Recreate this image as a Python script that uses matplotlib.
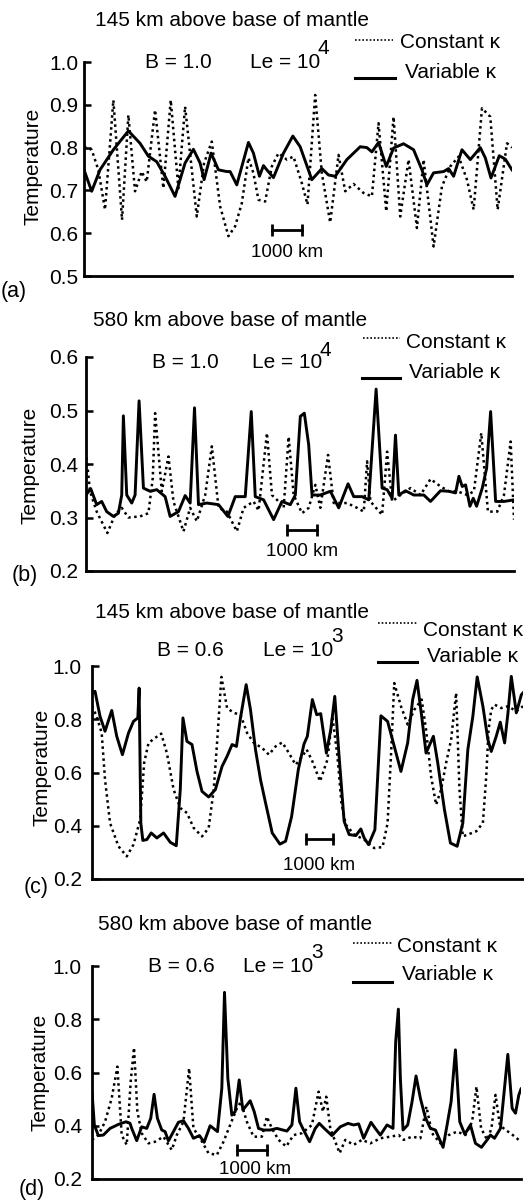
import matplotlib
matplotlib.use('Agg')
import matplotlib.pyplot as plt
from matplotlib.lines import Line2D

plt.rcParams['font.family'] = ['Liberation Sans', 'DejaVu Sans']

# ---------------- data (distance in km, temperature non-dimensional) ----------------
a_var_x = [0, 256, 533, 978, 1478, 1867, 2144, 2422, 2700, 3033, 3367, 3644, 3867, 4000, 4233, 4478, 4756, 4867, 5089, 5289,
           5478, 5644, 5844, 5978, 6089, 6311, 6644, 6956, 7200, 7589, 7922, 8144, 8367, 8756, 9200, 9422, 9589, 9811, 10067,
           10311, 10644, 10978, 11256, 11422, 11644, 11978, 12144, 12311, 12589, 12867, 13200, 13367, 13556, 13833, 14033, 14256]
a_var_t = [0.748, 0.698, 0.748, 0.795, 0.839, 0.81, 0.78, 0.767, 0.733, 0.686, 0.764, 0.796, 0.764, 0.725, 0.787, 0.748, 0.744,
           0.744, 0.713, 0.764, 0.812, 0.787, 0.733, 0.758, 0.748, 0.73, 0.787, 0.827, 0.802, 0.725, 0.751, 0.736, 0.733, 0.772,
           0.802, 0.80, 0.79, 0.812, 0.756, 0.799, 0.809, 0.795, 0.748, 0.713, 0.741, 0.744, 0.751, 0.733, 0.795, 0.772, 0.80,
           0.776, 0.729, 0.781, 0.773, 0.748]
a_const_x = [0, 256, 478, 700, 978, 1267, 1478, 1700, 1922, 2089, 2367, 2644, 2889, 3144, 3367, 3756, 4000, 4256, 4533, 4811,
             5033, 5256, 5478, 5644, 5811, 6033, 6256, 6478, 6756, 6978, 7256, 7444, 7700, 7922, 8200, 8478, 8700, 8978, 9311,
             9589, 9811, 10067, 10311, 10533, 10811, 11089, 11311, 11644, 11922, 12200, 12478, 12756, 12978, 13256, 13533,
             13778, 14089, 14256]
a_const_t = [0.802, 0.795, 0.748, 0.655, 0.911, 0.631, 0.876, 0.698, 0.744, 0.72, 0.888, 0.705, 0.911, 0.705, 0.896, 0.639,
             0.764, 0.814, 0.663, 0.593, 0.616, 0.67, 0.776, 0.74, 0.678, 0.674, 0.756, 0.787, 0.772, 0.779, 0.717, 0.667,
             0.923, 0.74, 0.625, 0.783, 0.698, 0.715, 0.694, 0.686, 0.857, 0.651, 0.872, 0.639, 0.772, 0.612, 0.772, 0.569,
             0.709, 0.756, 0.779, 0.725, 0.655, 0.892, 0.872, 0.655, 0.81, 0.80]

b_var_x = [0, 156, 356, 523, 689, 912, 1079, 1190, 1245, 1357, 1523, 1635, 1768, 1913, 2135, 2358, 2636, 2802, 3080, 3303,
           3469, 3614, 3747, 4025, 4415, 4726, 4971, 5304, 5504, 5638, 5916, 6249, 6527, 6805, 6972, 7139, 7272, 7417, 7528,
           7806, 8140, 8418, 8729, 8918, 9196, 9418, 9663, 9863, 10030, 10197, 10308, 10419, 10642, 10920, 11253, 11475,
           11809, 12087, 12310, 12421, 12532, 12643, 12788, 12899, 13010, 13199, 13344, 13477, 13644, 13922, 14256]
b_var_t = [0.342, 0.354, 0.324, 0.330, 0.311, 0.302, 0.308, 0.342, 0.49, 0.342, 0.327, 0.342, 0.518, 0.355, 0.349, 0.352,
           0.339, 0.302, 0.311, 0.341, 0.327, 0.505, 0.324, 0.327, 0.324, 0.302, 0.339, 0.339, 0.498, 0.339, 0.333, 0.296,
           0.330, 0.324, 0.342, 0.489, 0.495, 0.436, 0.342, 0.342, 0.349, 0.318, 0.363, 0.339, 0.339, 0.333, 0.54, 0.355,
           0.352, 0.336, 0.454, 0.342, 0.35, 0.342, 0.342, 0.330, 0.35, 0.349, 0.346, 0.377, 0.358, 0.361, 0.321, 0.336,
           0.321, 0.355, 0.392, 0.498, 0.330, 0.330, 0.333]
b_const_x = [0, 133, 356, 712, 967, 1190, 1412, 1801, 2079, 2224, 2302, 2524, 2747, 2913, 3247, 3469, 3692, 3970, 4192, 4415,
             4693, 5026, 5249, 5582, 5749, 6027, 6194, 6416, 6583, 6750, 6917, 7195, 7417, 7639, 7806, 8062, 8251, 8696, 9029,
             9252, 9363, 9474, 9863, 10030, 10197, 10475, 10809, 11142, 11476, 11809, 12087, 12365, 12699, 12921, 13166,
             13388, 13699, 13922, 14144, 14256]
b_const_t = [0.423, 0.349, 0.311, 0.271, 0.305, 0.318, 0.300, 0.302, 0.308, 0.374, 0.495, 0.349, 0.414, 0.330, 0.274, 0.318,
             0.293, 0.342, 0.433, 0.318, 0.311, 0.274, 0.318, 0.330, 0.313, 0.458, 0.342, 0.330, 0.318, 0.451, 0.342, 0.308,
             0.318, 0.361, 0.318, 0.417, 0.327, 0.327, 0.318, 0.311, 0.405, 0.330, 0.305, 0.423, 0.330, 0.342, 0.355, 0.342,
             0.372, 0.358, 0.349, 0.349, 0.342, 0.349, 0.458, 0.311, 0.311, 0.342, 0.442, 0.296]

c_var_x = [0, 100, 265, 431, 653, 818, 1006, 1206, 1371, 1515, 1559, 1615, 1681, 1814, 1958, 2146, 2367, 2588, 2787, 2920,
           3008, 3141, 3307, 3473, 3639, 3860, 4081, 4302, 4468, 4634, 4778, 4911, 5099, 5242, 5408, 5574, 5740, 5961, 6216,
           6404, 6603, 6824, 7012, 7123, 7289, 7432, 7565, 7753, 7897, 8030, 8173, 8339, 8505, 8726, 8892, 9003, 9147, 9357,
           9556, 9777, 9998, 10219, 10441, 10607, 10750, 10905, 11049, 11292, 11436, 11657, 11856, 12078, 12265, 12431,
           12597, 12741, 12929, 13095, 13206, 13371, 13504, 13648, 13759, 13869, 14035, 14201, 14256]
c_var_t = [0.899, 0.905, 0.811, 0.755, 0.833, 0.736, 0.667, 0.748, 0.792, 0.805, 0.917, 0.410, 0.345, 0.348, 0.373, 0.354,
           0.373, 0.338, 0.325, 0.536, 0.805, 0.717, 0.705, 0.604, 0.529, 0.508, 0.536, 0.623, 0.661, 0.705, 0.698, 0.805,
           0.930, 0.836, 0.686, 0.573, 0.486, 0.373, 0.331, 0.342, 0.435, 0.611, 0.707, 0.736, 0.874, 0.817, 0.821, 0.673,
           0.761, 0.886, 0.661, 0.417, 0.367, 0.363, 0.388, 0.354, 0.329, 0.385, 0.813, 0.792, 0.698, 0.604, 0.711, 0.874,
           0.946, 0.811, 0.673, 0.736, 0.636, 0.461, 0.335, 0.323, 0.410, 0.686, 0.811, 0.959, 0.849, 0.723, 0.679, 0.736,
           0.789, 0.711, 0.824, 0.961, 0.824, 0.892, 0.899]
c_const_x = [0, 155, 321, 431, 597, 874, 1150, 1371, 1593, 1725, 1869, 2090, 2289, 2477, 2699, 2920, 3141, 3362, 3639, 3860,
             4026, 4159, 4280, 4468, 4689, 4911, 5132, 5353, 5630, 5851, 6072, 6293, 6514, 6735, 6957, 7101, 7289, 7543, 7786,
             7952, 8118, 8251, 8395, 8671, 9003, 9335, 9611, 9777, 9888, 9998, 10219, 10441, 10662, 10905, 11049, 11215, 11381,
             11547, 11713, 11878, 12044, 12155, 12265, 12431, 12708, 12929, 13040, 13117, 13206, 13316, 13537, 13759, 14035,
             14256]
c_const_t = [0.849, 0.811, 0.748, 0.573, 0.410, 0.323, 0.285, 0.329, 0.423, 0.636, 0.711, 0.730, 0.746, 0.673, 0.536, 0.467,
             0.448, 0.392, 0.360, 0.392, 0.536, 0.748, 0.959, 0.842, 0.824, 0.817, 0.748, 0.711, 0.692, 0.667, 0.698, 0.713,
             0.673, 0.629, 0.661, 0.686, 0.642, 0.567, 0.648, 0.811, 0.661, 0.486, 0.404, 0.367, 0.348, 0.316, 0.320, 0.410,
             0.661, 0.936, 0.849, 0.780, 0.836, 0.874, 0.761, 0.586, 0.479, 0.536, 0.636, 0.723, 0.899, 0.536, 0.360, 0.367,
             0.379, 0.410, 0.586, 0.761, 0.836, 0.855, 0.842, 0.849, 0.830, 0.849]

d_var_x = [0, 78, 211, 377, 599, 876, 1131, 1264, 1320, 1486, 1652, 1819, 1952, 2063, 2174, 2318, 2429, 2540, 2706, 2872,
           3039, 3205, 3371, 3571, 3726, 3926, 4037, 4170, 4314, 4403, 4514, 4647, 4758, 4891, 5013, 5146, 5257, 5390, 5534,
           5700, 5922, 6144, 6477, 6643, 6776, 6898, 7031, 7231, 7419, 7552, 7719, 7974, 8251, 8506, 8695, 8861, 9027, 9271,
           9415, 9582, 9804, 9914, 10003, 10092, 10181, 10247, 10336, 10491, 10635, 10768, 10913, 11079, 11245, 11412,
           11667, 11800, 11933, 12077, 12221, 12388, 12576, 12742, 12942, 13131, 13241, 13375, 13574, 13663, 13818, 13962,
           14073, 14184, 14256]
d_var_t = [0.528, 0.403, 0.363, 0.365, 0.390, 0.405, 0.415, 0.409, 0.390, 0.344, 0.396, 0.390, 0.428, 0.518, 0.428, 0.384,
           0.378, 0.343, 0.378, 0.413, 0.419, 0.390, 0.353, 0.363, 0.338, 0.400, 0.390, 0.378, 0.541, 0.901, 0.578, 0.440,
           0.453, 0.572, 0.459, 0.478, 0.494, 0.453, 0.390, 0.384, 0.384, 0.390, 0.380, 0.403, 0.541, 0.415, 0.384, 0.340,
           0.390, 0.409, 0.390, 0.363, 0.396, 0.409, 0.403, 0.407, 0.353, 0.413, 0.390, 0.365, 0.403, 0.396, 0.390, 0.716,
           0.838, 0.578, 0.384, 0.403, 0.490, 0.587, 0.503, 0.430, 0.390, 0.384, 0.319, 0.403, 0.490, 0.685, 0.415, 0.368,
           0.403, 0.334, 0.319, 0.347, 0.365, 0.353, 0.390, 0.490, 0.668, 0.465, 0.447, 0.516, 0.538]
d_const_x = [0, 211, 433, 654, 843, 987, 1153, 1286, 1397, 1508, 1652, 1874, 2096, 2373, 2651, 2817, 3039, 3227, 3371, 3593,
             3870, 4148, 4369, 4591, 4813, 4946, 5146, 5368, 5645, 5811, 5978, 6199, 6454, 6698, 6976, 7308, 7530, 7674, 7785,
             7918, 8085, 8229, 8417, 8695, 8972, 9249, 9582, 9914, 10192, 10358, 10635, 10913, 11112, 11301, 11578, 11855,
             12133, 12410, 12632, 12776, 12931, 13131, 13274, 13408, 13552, 13741, 13907, 14256]
d_const_t = [0.347, 0.365, 0.415, 0.503, 0.622, 0.365, 0.328, 0.566, 0.693, 0.453, 0.372, 0.334, 0.340, 0.359, 0.309, 0.365,
             0.415, 0.616, 0.390, 0.353, 0.297, 0.290, 0.340, 0.403, 0.465, 0.490, 0.415, 0.359, 0.359, 0.434, 0.390, 0.347,
             0.322, 0.365, 0.372, 0.403, 0.528, 0.453, 0.509, 0.390, 0.340, 0.297, 0.347, 0.328, 0.347, 0.334, 0.353, 0.359,
             0.365, 0.347, 0.359, 0.353, 0.472, 0.372, 0.334, 0.365, 0.378, 0.365, 0.415, 0.547, 0.390, 0.347, 0.390, 0.516,
             0.403, 0.384, 0.372, 0.340]

titles = ["145 km above base of mantle", "580 km above base of mantle",
          "145 km above base of mantle", "580 km above base of mantle"]
b_labels = ["B = 1.0", "B = 1.0", "B = 0.6", "B = 0.6"]
le_exponents = ["4", "4", "3", "3"]
panel_labels = ["(a)", "(b)", "(c)", "(d)"]
yticks_list = [[0.5, 0.6, 0.7, 0.8, 0.9, 1.0], [0.2, 0.3, 0.4, 0.5, 0.6],
               [0.2, 0.4, 0.6, 0.8, 1.0], [0.2, 0.4, 0.6, 0.8, 1.0]]
series = [(a_var_x, a_var_t, a_const_x, a_const_t), (b_var_x, b_var_t, b_const_x, b_const_t),
          (c_var_x, c_var_t, c_const_x, c_const_t), (d_var_x, d_var_t, d_const_x, d_const_t)]

# ---------------- layout (pixels of the 524 x 1202 canvas) ----------------
W, H = 524, 1202
layout = [
    dict(box=(84, 512, 62, 276), pad=4.3, title=(95, 20), B=(145, 62), Le=(250, 62), sup=(318, 48),
         dot=(355, 393, 40), const=(400, 43), sol=(355, 395, 78), var=(405, 72), lab=(1, 292), ylab=(33, 166),
         bar=(6262, 7262, 0.607), bartxt=(6762, 0.556)),
    dict(box=(86, 514, 357, 571), pad=5.8, title=(93, 320), B=(152, 362), Le=(252, 362), sup=(320, 350),
         dot=(363, 400, 338), const=(406, 343), sol=(362, 400, 378), var=(409, 373), lab=(12, 576), ylab=(30, 465),
         bar=(6695, 7695, 0.277), bartxt=(7195, 0.236)),
    dict(box=(92, 523, 666, 879), pad=7.2, title=(95, 612), B=(157, 650), Le=(263, 650), sup=(331, 637),
         dot=(378, 417, 623), const=(423, 630), sol=(378, 417, 662), var=(427, 657), lab=(24, 888), ylab=(42, 767),
         bar=(7062, 7986, 0.350), bartxt=(7524, 0.252)),
    dict(box=(92, 521, 966, 1179), pad=7.2, title=(98, 925), B=(148, 967), Le=(243, 967), sup=(311, 952),
         dot=(353, 392, 943), const=(397, 947), sol=(353, 392, 982), var=(402, 975), lab=(19, 1190), ylab=(40, 1072),
         bar=(4818, 5815, 0.309), bartxt=(5417, 0.234)),
]

FS = 15
fig = plt.figure(figsize=(W / 100, H / 100), dpi=100)


def fx(px):
    return px / W


def fy(py):
    return 1 - py / H


for i, L in enumerate(layout):
    l, r, t, b = L['box']
    ax = fig.add_axes([fx(l), fy(b), (r - l) / W, (b - t) / H])
    vx, vt, cx, ct = series[i]
    ax.plot(cx, ct, color='black', lw=1.8, linestyle=(0, (1, 1.4)), solid_capstyle='butt')
    ax.plot(vx, vt, color='black', lw=2.1, solid_joinstyle='round')
    yt = yticks_list[i]
    ax.set_xlim(0, 14256)
    ax.set_ylim(yt[0], yt[-1])
    ax.set_yticks(yt)
    ax.set_yticklabels([f"{v:.1f}" for v in yt])
    ax.set_xticks([])
    for s in ['top', 'right']:
        ax.spines[s].set_visible(False)
    for s in ['left', 'bottom']:
        ax.spines[s].set_linewidth(2.0)
    ax.tick_params(axis='y', direction='in', length=5, width=1.8, labelsize=FS, pad=L['pad'])
    # scale bar
    x0, x1, yb = L['bar']
    ax.plot([x0, x1], [yb, yb], color='black', lw=2.0, marker='|', markersize=9, mew=2.0)
    bx, by = L['bartxt']
    ax.text(bx, by, "1000 km", ha='center', va='center', fontsize=13.5)

    # texts
    fig.text(fx(L['title'][0]), fy(L['title'][1]), titles[i], ha='left', va='center', fontsize=FS)
    fig.text(fx(L['B'][0]), fy(L['B'][1]), b_labels[i], ha='left', va='center', fontsize=FS)
    fig.text(fx(L['Le'][0]), fy(L['Le'][1]), "Le = 10", ha='left', va='center', fontsize=FS)
    fig.text(fx(L['sup'][0]), fy(L['sup'][1]), le_exponents[i], ha='left', va='center', fontsize=FS)
    d0, d1, dy = L['dot']
    fig.add_artist(Line2D([fx(d0), fx(d1)], [fy(dy), fy(dy)], transform=fig.transFigure,
                          color='black', lw=1.2, linestyle=(0, (1, 1.2))))
    fig.text(fx(L['const'][0]), fy(L['const'][1]), "Constant \u03ba", ha='left', va='center', fontsize=FS)
    s0, s1, sy = L['sol']
    fig.add_artist(Line2D([fx(s0), fx(s1)], [fy(sy), fy(sy)], transform=fig.transFigure,
                          color='black', lw=2.2))
    fig.text(fx(L['var'][0]), fy(L['var'][1]), "Variable \u03ba", ha='left', va='center', fontsize=FS)
    fig.text(fx(L['lab'][0]), fy(L['lab'][1]), panel_labels[i], ha='left', va='center', fontsize=15.5)
    fig.text(fx(L['ylab'][0]), fy(L['ylab'][1]), "Temperature", ha='center', va='center',
             rotation=90, fontsize=FS)

fig.savefig("out.png", dpi=100)
